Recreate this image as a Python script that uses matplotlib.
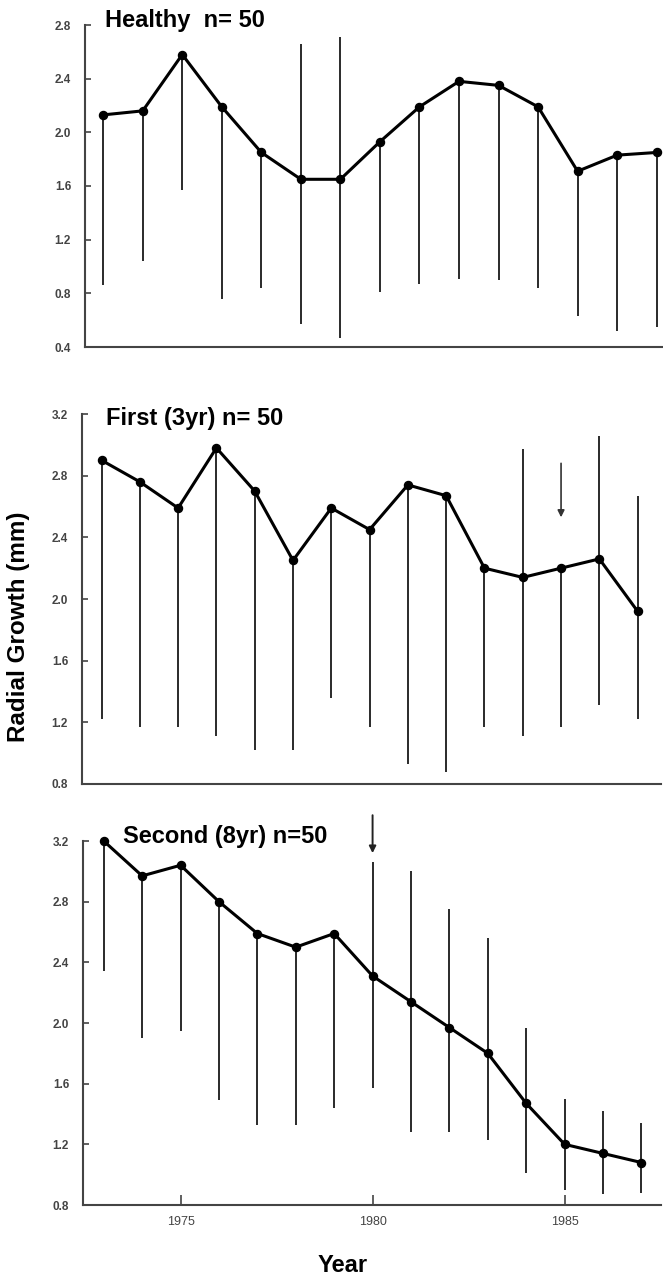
import numpy as np
import matplotlib as mpl
mpl.use('Agg')
import matplotlib.pyplot as plt

plt.rcParams['font.family'] = ['Liberation Sans', 'DejaVu Sans']

years = np.arange(1973, 1988)

# healthy trees
healthy = [2.13, 2.16, 2.58, 2.19, 1.85, 1.65, 1.65, 1.93, 2.19, 2.38, 2.35, 2.19, 1.71, 1.83, 1.85]
healthy_lo = [0.86, 1.04, 1.57, 0.76, 0.84, 0.57, 0.47, 0.81, 0.87, 0.91, 0.90, 0.84, 0.63, 0.52, 0.55]
healthy_hi = [2.13, 2.16, 2.58, 2.19, 1.85, 2.66, 2.71, 1.93, 2.19, 2.38, 2.35, 2.19, 1.71, 1.83, 1.85]

# first infestation (3 yr)
first = [2.90, 2.76, 2.59, 2.98, 2.70, 2.25, 2.59, 2.45, 2.74, 2.67, 2.20, 2.14, 2.20, 2.26, 1.92]
first_lo = [1.22, 1.17, 1.17, 1.11, 1.02, 1.02, 1.36, 1.17, 0.93, 0.88, 1.17, 1.11, 1.17, 1.31, 1.22]
first_hi = [2.90, 2.76, 2.59, 2.98, 2.70, 2.25, 2.59, 2.45, 2.74, 2.67, 2.20, 2.97, 2.20, 3.06, 2.67]

# second infestation (8 yr)
second = [3.20, 2.97, 3.04, 2.80, 2.59, 2.50, 2.59, 2.31, 2.14, 1.97, 1.80, 1.47, 1.20, 1.14, 1.08]
second_lo = [2.34, 1.90, 1.95, 1.49, 1.33, 1.33, 1.44, 1.57, 1.28, 1.28, 1.23, 1.01, 0.90, 0.87, 0.88]
second_hi = [3.20, 2.97, 3.04, 2.80, 2.59, 2.50, 2.59, 3.06, 3.00, 2.75, 2.56, 1.97, 1.50, 1.42, 1.34]

W, H = 663, 1277
fig = plt.figure(figsize=(W / 100, H / 100), dpi=100)


def box(left, top, right, bottom):
    return [left / W, 1 - bottom / H, (right - left) / W, (bottom - top) / H]


panels = [
    dict(rect=box(85, 25, 663, 347), xlim=(1972.54, 1987.16), ylim=(0.4, 2.8),
         y=healthy, lo=healthy_lo, hi=healthy_hi, title='Healthy  n= 50', tpos=(105, 21)),
    dict(rect=box(82, 414, 661, 784), xlim=(1972.49, 1987.61), ylim=(0.8, 3.2),
         y=first, lo=first_lo, hi=first_hi, title='First (3yr) n= 50', tpos=(106, 419)),
    dict(rect=box(83, 841, 661, 1205), xlim=(1972.46, 1987.51), ylim=(0.8, 3.2),
         y=second, lo=second_lo, hi=second_hi, title='Second (8yr) n=50', tpos=(123, 837)),
]

axes = []
for p in panels:
    ax = fig.add_axes(p['rect'])
    ax.vlines(years, p['lo'], p['hi'], color='#2a2a2a', lw=1.4, clip_on=False)
    ax.plot(years, p['y'], '-o', color='black', lw=2.2, ms=5.8, clip_on=False, zorder=3)
    ax.set_xlim(*p['xlim'])
    ax.set_ylim(*p['ylim'])
    ax.set_yticks(np.arange(p['ylim'][0], p['ylim'][1] + 0.01, 0.4))
    ax.yaxis.set_major_formatter(mpl.ticker.FormatStrFormatter('%.1f'))
    for s in ['top', 'right']:
        ax.spines[s].set_visible(False)
    for s in ['left', 'bottom']:
        ax.spines[s].set_color('#444444')
        ax.spines[s].set_linewidth(1.5)
    ax.tick_params(axis='y', direction='in', length=4, width=1.2, color='#444444',
                   labelsize=8.5, labelcolor='#444444', pad=10)
    for lab in ax.get_yticklabels():
        lab.set_fontweight('bold')
    fig.text(p['tpos'][0] / W, 1 - p['tpos'][1] / H, p['title'], fontsize=17,
             fontweight='bold', ha='left', va='center')
    axes.append(ax)

top, mid, bot = axes
for ax in (top, mid):
    ax.set_xticks([])

bot.set_xticks([1975, 1980, 1985])
bot.tick_params(axis='x', direction='in', length=7, width=1.2, color='#444444',
                labelsize=9, labelcolor='#444444', pad=8)

# onset of defoliation
mid.annotate('', xy=(1985, 2.53), xytext=(1985, 2.88),
             arrowprops=dict(arrowstyle='-|>', color='#333333', lw=1.2,
                             mutation_scale=10, shrinkA=0, shrinkB=0))
bot.annotate('', xy=(1980, 3.12), xytext=(1980, 3.37), annotation_clip=False,
             arrowprops=dict(arrowstyle='-|>', color='#222222', lw=1.4,
                             mutation_scale=10, shrinkA=0, shrinkB=0))

fig.text(19 / W, 1 - 627 / H, 'Radial Growth (mm)', rotation=90, fontsize=17.5,
         fontweight='bold', ha='center', va='center')
fig.text(343 / W, 1 - 1265 / H, 'Year', fontsize=17, fontweight='bold',
         ha='center', va='center')

plt.savefig('out.png', dpi=100)
